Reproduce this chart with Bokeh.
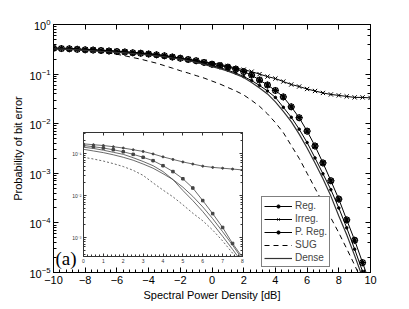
from bokeh.plotting import figure
from bokeh.models import LinearAxis, LogAxis, Label, SingleIntervalTicker, LogTicker, FixedTicker
from bokeh.layouts import column, row
from bokeh.embed import file_html
from bokeh.resources import INLINE

# ---------------- main plot data ----------------
snr = [-10, -9.5, -9, -8.5, -8, -7.5, -7, -6.5, -6, -5.5, -5, -4.5, -4, -3.5, -3, -2.5, -2, -1.5, -1, -0.5,
       0, 0.5, 1, 1.5, 2, 2.5, 3, 3.5, 4, 4.5, 5, 5.5, 6, 6.5, 7, 7.5, 8, 8.5, 9, 9.5, 10]

reg = [0.327, 0.324, 0.320, 0.313, 0.305, 0.302, 0.295, 0.288, 0.282, 0.275, 0.266, 0.257, 0.248, 0.240,
       0.229, 0.216, 0.204, 0.191, 0.178, 0.162, 0.148, 0.135, 0.120, 0.105, 0.0891, 0.0741, 0.0589,
       0.0457, 0.0339, 0.0214, 0.0135, 7.76e-3, 4.17e-3, 2.04e-3, 9.77e-4, 4.68e-4, 2.0e-4, 7.94e-5,
       2.95e-5, 1.05e-5, 3.98e-6]
irreg = [0.339, 0.335, 0.331, 0.324, 0.316, 0.313, 0.305, 0.299, 0.292, 0.285, 0.275, 0.269, 0.260, 0.251,
         0.238, 0.224, 0.210, 0.199, 0.188, 0.177, 0.166, 0.158, 0.145, 0.132, 0.123, 0.112, 0.100, 0.0891,
         0.0813, 0.0708, 0.0617, 0.0562, 0.0501, 0.0457, 0.0417, 0.0389, 0.0372, 0.0355, 0.0339, 0.0339,
         0.0331]
preg = [0.331, 0.327, 0.324, 0.316, 0.309, 0.305, 0.299, 0.292, 0.285, 0.279, 0.269, 0.263, 0.254, 0.245,
        0.234, 0.221, 0.209, 0.197, 0.186, 0.172, 0.158, 0.148, 0.138, 0.126, 0.112, 0.0955, 0.0759, 0.0603,
        0.0468, 0.0347, 0.0219, 0.0132, 7.08e-3, 3.55e-3, 1.62e-3, 7.08e-4, 3.02e-4, 1.15e-4, 4.47e-5,
        1.58e-5, 5.6e-6]
sug = [0.324, 0.320, 0.316, 0.309, 0.302, 0.292, 0.282, 0.266, 0.251, 0.234, 0.216, 0.200, 0.182, 0.166,
       0.148, 0.132, 0.117, 0.105, 0.0933, 0.0832, 0.0724, 0.0631, 0.0537, 0.0457, 0.0380, 0.0295, 0.0224,
       0.0158, 0.0105, 6.61e-3, 3.63e-3, 2.0e-3, 1.0e-3, 5.01e-4, 2.51e-4, 1.26e-4, 6.31e-5, 3.02e-5,
       1.41e-5, 6.31e-6, 2.82e-6]
dense = [0.324, 0.320, 0.316, 0.309, 0.302, 0.295, 0.288, 0.282, 0.275, 0.269, 0.260, 0.251, 0.243, 0.234,
         0.224, 0.211, 0.200, 0.186, 0.172, 0.157, 0.141, 0.129, 0.115, 0.100, 0.0851, 0.0676, 0.0525,
         0.0398, 0.0275, 0.0178, 0.0110, 6.17e-3, 3.24e-3, 1.62e-3, 7.76e-4, 3.47e-4, 1.38e-4, 5.75e-5,
         2.19e-5, 7.94e-6, 3.16e-6]

# ---------------- inset data ----------------
snr_in = [0, 0.5, 1, 1.5, 2, 2.5, 3, 3.5, 4, 4.5, 5, 5.5, 6, 6.5, 7, 7.5, 8]
irreg_in = [0.170, 0.162, 0.155, 0.145, 0.135, 0.123, 0.112, 0.0977, 0.0832, 0.0724, 0.0631, 0.0562,
            0.0501, 0.0468, 0.0447, 0.0427, 0.0407]
preg_in = [0.155, 0.145, 0.135, 0.123, 0.110, 0.0955, 0.0813, 0.0676, 0.0513, 0.0372, 0.0251, 0.0151,
           7.59e-3, 3.72e-3, 1.74e-3, 7.24e-4, 3.39e-4]
reg_in = [0.126, 0.115, 0.105, 0.0933, 0.0813, 0.0692, 0.0562, 0.0447, 0.0331, 0.0240, 0.0158, 9.55e-3,
          5.37e-3, 2.82e-3, 1.38e-3, 6.61e-4, 3.02e-4]
dense_in = [0.141, 0.132, 0.120, 0.107, 0.0955, 0.0794, 0.0646, 0.0513, 0.0372, 0.0240, 0.0132, 7.59e-3,
            4.17e-3, 2.14e-3, 1.07e-3, 5.25e-4, 2.51e-4]
sug_in = [0.0813, 0.0741, 0.0661, 0.0575, 0.0490, 0.0398, 0.0302, 0.0200, 0.0135, 9.33e-3, 6.03e-3,
          3.80e-3, 2.51e-3, 1.51e-3, 8.32e-4, 4.27e-4, 2.0e-4]
inset_yticks = [0.001, 0.01, 0.1]
inset_ylabels = ["10\u207b\u00b3", "10\u207b\u00b2", "10\u207b\u00b9"]
inset_minor = [4e-4, 5e-4, 6e-4, 7e-4, 8e-4, 9e-4, 2e-3, 3e-3, 4e-3, 5e-3, 6e-3, 7e-3, 8e-3, 9e-3,
               0.02, 0.03, 0.04, 0.05, 0.06, 0.07, 0.08, 0.09, 0.2, 0.3]

FONT = "Liberation Sans"


def hide_labels(ax):
    ax.major_label_text_alpha = 0
    ax.major_label_text_font_size = "1px"
    ax.major_label_standoff = 0


p = figure(frame_width=317, frame_height=248, x_range=(-10, 10), y_range=(1e-5, 1),
           y_axis_type="log", output_backend="svg", toolbar_location=None,
           min_border_left=53, min_border_right=33, min_border_top=24, min_border_bottom=34,
           background_fill_color="white", border_fill_color="white")
p.grid.visible = False
p.outline_line_color = "black"

p.xaxis.ticker = SingleIntervalTicker(interval=2)
p.xaxis.axis_label = "Spectral Power Density [dB]"
p.yaxis.axis_label = "Probability of bit error"

top = LinearAxis(ticker=SingleIntervalTicker(interval=2))
right = LogAxis(ticker=LogTicker())
p.add_layout(top, "above")
p.add_layout(right, "right")

for ax in p.axis:
    ax.axis_line_color = "black"
    ax.major_tick_in = 5
    ax.major_tick_out = 0
    ax.minor_tick_in = 3
    ax.minor_tick_out = 0
    ax.major_tick_line_color = "black"
    ax.minor_tick_line_color = "black"
    ax.major_label_text_font = FONT
    ax.major_label_text_color = "black"
    ax.major_label_text_font_size = "11px"
    ax.axis_label_text_font = FONT
    ax.axis_label_text_font_style = "normal"
    ax.axis_label_text_font_size = "11px"
    ax.axis_label_text_color = "black"
    ax.major_label_standoff = 3
    ax.axis_label_standoff = 2
hide_labels(top)
hide_labels(right)
for ax in (p.xaxis[0], top):
    ax.minor_tick_line_color = None

lc = "black"
p.line(snr, reg, color=lc, line_width=1, legend_label="Reg.")
p.scatter(snr, reg, marker="circle", size=2.5, color=lc, legend_label="Reg.")
p.line(snr, irreg, color=lc, line_width=1, legend_label="Irreg.")
p.scatter(snr, irreg, marker="x", size=6, color=lc, line_width=1, legend_label="Irreg.")
p.line(snr, preg, color=lc, line_width=1, legend_label="P. Reg.")
p.scatter(snr, preg, marker="asterisk", size=7, color=lc, line_width=1.2, legend_label="P. Reg.")
p.scatter(snr, preg, marker="circle", size=6, fill_color=None, line_color=lc, line_width=1, legend_label="P. Reg.")
p.line(snr, sug, color=lc, line_width=1, line_dash="5 4", legend_label="SUG")
p.line(snr, dense, color="#333333", line_width=1.2, legend_label="Dense")

lg = p.legend[0]
lg.location = (208, 5)
lg.label_text_font = FONT
lg.label_text_font_size = "10px"
lg.glyph_width = 28
lg.glyph_height = 8
lg.label_height = 13
lg.label_width = 10
lg.spacing = 0
lg.padding = 2
lg.margin = 0
lg.label_standoff = 3
lg.border_line_color = "black"
lg.border_line_width = 1
lg.background_fill_alpha = 1

p.add_layout(Label(x=2, y=4, x_units="screen", y_units="screen", text="(a)",
                   text_font="Liberation Serif", text_font_size="19px", text_color="black"))

# ---------------- inset ----------------
ins = figure(frame_width=159, frame_height=124, x_range=(0, 8), y_range=(10 ** -3.45, 10 ** -0.5),
             y_axis_type="log", output_backend="svg", toolbar_location=None,
             min_border_left=22, min_border_right=3, min_border_top=3, min_border_bottom=12,
             border_fill_alpha=0, background_fill_color="white")
ins.grid.visible = False
ins.outline_line_color = "#333333"
ins.xaxis.ticker = SingleIntervalTicker(interval=1)
ins.yaxis.ticker = FixedTicker(ticks=inset_yticks, minor_ticks=inset_minor)
ins.yaxis.major_label_overrides = dict(zip(inset_yticks, inset_ylabels))
itop = LinearAxis(ticker=SingleIntervalTicker(interval=1))
iright = LogAxis(ticker=FixedTicker(ticks=inset_yticks, minor_ticks=inset_minor))
ins.add_layout(itop, "above")
ins.add_layout(iright, "right")
for ax in ins.axis:
    ax.axis_line_color = "#333333"
    ax.major_tick_in = 3
    ax.major_tick_out = 0
    ax.minor_tick_in = 2
    ax.minor_tick_out = 0
    ax.major_tick_line_color = "#333333"
    ax.minor_tick_line_color = "#333333"
    ax.major_label_text_font = FONT
    ax.major_label_text_color = "#333333"
    ax.major_label_text_font_size = "5px"
    ax.major_label_standoff = 2
hide_labels(itop)
hide_labels(iright)
ins.xaxis[0].minor_tick_line_color = None
itop.minor_tick_line_color = None

ic = "#444444"
ins.line(snr_in, irreg_in, color=ic, line_width=0.8)
ins.scatter(snr_in, irreg_in, marker="circle", size=2, color=ic)
ins.line(snr_in, preg_in, color=ic, line_width=0.8)
ins.scatter(snr_in, preg_in, marker="square", size=2.5, color=ic)
ins.line(snr_in, reg_in, color=ic, line_width=0.8)
ins.line(snr_in, dense_in, color=ic, line_width=0.8)
ins.line(snr_in, sug_in, color=ic, line_width=0.8, line_dash="2 2")

holder = row(ins)
holder.styles = {"position": "absolute", "left": "61px", "top": "129px"}

layout = column(p, holder)
open("out.html", "w").write(file_html(layout, INLINE))
